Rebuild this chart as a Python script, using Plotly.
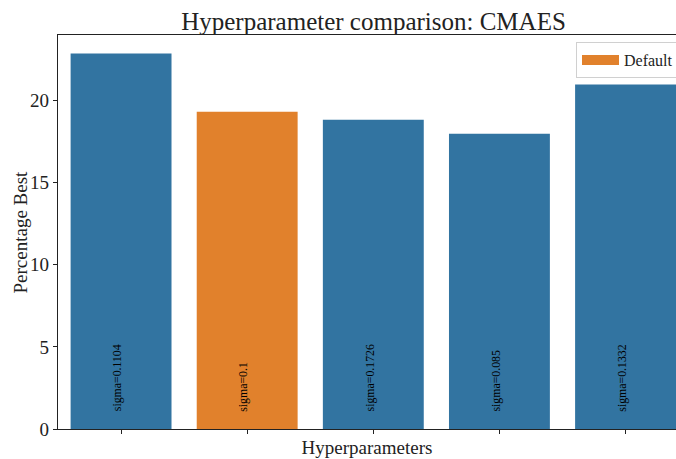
import plotly.graph_objects as go

categories = ["sigma=0.1104", "sigma=0.1", "sigma=0.1726", "sigma=0.085", "sigma=0.1332"]
values = [22.87, 19.33, 18.84, 17.99, 20.98]
is_default = [False, True, False, False, False]
y_ticks = [0, 5, 10, 15, 20]

BLUE = "#3274a1"
ORANGE = "#e1812c"
FONT = "Liberation Serif"
TXT = "#222222"

x_idx = list(range(len(categories)))
colors = [ORANGE if d else BLUE for d in is_default]

fig = go.Figure()
fig.add_trace(go.Bar(
    x=x_idx, y=values, width=0.8,
    marker=dict(color=colors, line=dict(width=0)),
    showlegend=False, hoverinfo="skip",
))
# legend proxy for the default configuration
fig.add_trace(go.Scatter(
    x=[None], y=[None], mode="lines",
    line=dict(color=ORANGE, width=12),
    name="Default",
))

for i, lab in enumerate(categories):
    fig.add_annotation(
        x=i - 0.03, y=0.95, xref="x", yref="y", text=lab, showarrow=False,
        textangle=-90, yanchor="bottom", xanchor="center",
        font=dict(family=FONT, size=11.8, color="black"),
    )

# y-axis title placed left of the tick labels
fig.add_annotation(
    x=0, y=0.5, xref="paper", yref="paper", text="Percentage Best",
    showarrow=False, textangle=-90, xanchor="right", yanchor="middle", xshift=-26,
    font=dict(size=19, family=FONT, color=TXT),
)

fig.update_layout(
    width=676, height=459,
    margin=dict(l=58, r=0, t=35, b=30, autoexpand=False),
    paper_bgcolor="white", plot_bgcolor="white",
    font=dict(family=FONT, color=TXT),
    title=dict(text="Hyperparameter comparison: CMAES", x=373.5 / 676, xanchor="center",
               y=1 - 21 / 459, yanchor="middle", font=dict(size=25, family=FONT, color=TXT)),
    showlegend=True,
    legend=dict(x=(576 - 58) / 618, xanchor="left", y=(429 - 42) / 394, yanchor="top",
                bgcolor="white", bordercolor="#d0d0d0", borderwidth=1,
                font=dict(size=16, family=FONT, color=TXT), itemwidth=37),
    bargap=0.2,
)
fig.update_xaxes(
    range=[-0.5, 4.4], tickmode="array", tickvals=x_idx, ticktext=[""] * 5,
    ticks="outside", ticklen=4, tickcolor=TXT,
    showline=True, linecolor=TXT, linewidth=1.2, mirror=True,
    showgrid=False, zeroline=False, automargin=False,
    title=dict(text="Hyperparameters", font=dict(size=19, family=FONT, color=TXT), standoff=5),
)
fig.update_yaxes(
    range=[0, 24], tickmode="array", tickvals=y_ticks,
    ticks="outside", ticklen=4, tickcolor=TXT,
    tickfont=dict(size=19, family=FONT, color=TXT),
    showline=True, linecolor=TXT, linewidth=1.2,
    showgrid=False, zeroline=False, automargin=False,
)

fig.write_html(
    "out.html",
    config={"displayModeBar": False},
    post_script="document.body.style.margin='0';document.body.style.overflow='hidden';",
)
